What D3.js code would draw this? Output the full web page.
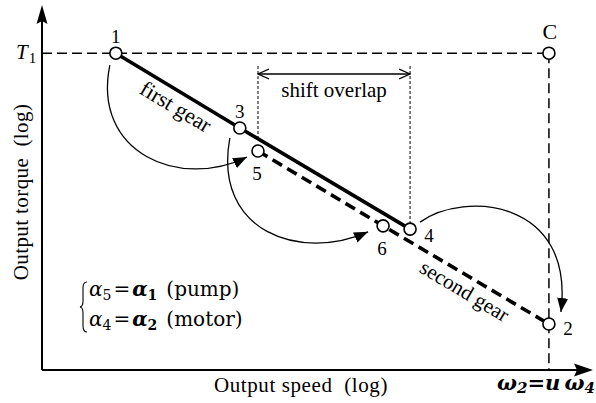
<!DOCTYPE html>
<html>
<head>
<meta charset="utf-8">
<script src="https://cdn.jsdelivr.net/npm/d3@7"></script>
<style>
  html, body { margin: 0; padding: 0; background: #fff; }
  svg { display: block; }
  text { font-family: "Liberation Serif", "DejaVu Serif", serif; fill: #000; white-space: pre; }
  text.math { font-family: "DejaVu Serif", "Liberation Serif", serif; }
</style>
</head>
<body>
<svg id="chart" width="596" height="403"></svg>
<script>
// Operating points on log–log axes (log speed, log torque, 0–100 units)
const pointNames  = ["1", "3", "4", "5", "6", "2"];
const logSpeed    = [13.4, 35.9, 66.8, 39.2, 61.9, 92.0];
const logTorque   = [86.8, 66.3, 38.6, 60.0, 39.5, 12.6];
const firstGear   = ["1", "3", "4"];
const secondGear  = ["5", "6", "2"];
// Shift transitions drawn as curved arrows: [from, to]
const transitions = [["1", "5"], ["3", "6"], ["4", "2"]];

const svg = d3.select("#chart");

const x = d3.scaleLinear().domain([0, 100]).range([42, 593]);
const y = d3.scaleLinear().domain([0, 100]).range([370, 5]);

const pts = {};
pointNames.forEach((n, i) => pts[n] = { name: n, px: x(logSpeed[i]), py: y(logTorque[i]) });
// Corner point C: top torque at top speed
const C = { name: "C", px: x(logSpeed[5]), py: y(logTorque[0]) };

const defs = svg.append("defs");
defs.append("marker").attr("id", "tri").attr("markerUnits", "userSpaceOnUse")
  .attr("viewBox", "0 -6 14 12").attr("refX", 14).attr("refY", 0)
  .attr("markerWidth", 14).attr("markerHeight", 12).attr("orient", "auto")
  .append("path").attr("d", "M0,-5.5L14,0L0,5.5Z").attr("fill", "#000");
defs.append("marker").attr("id", "vee").attr("markerUnits", "userSpaceOnUse")
  .attr("viewBox", "0 -6 12 12").attr("refX", 11).attr("refY", 0)
  .attr("markerWidth", 12).attr("markerHeight", 12).attr("orient", "auto-start-reverse")
  .append("path").attr("d", "M0,-5L11,0L0,5").attr("fill", "none").attr("stroke", "#000").attr("stroke-width", 1.3);

// Axes (no ticks), with arrowheads
const xAxis = svg.append("g").attr("transform", `translate(0,${y(0)})`)
  .call(d3.axisBottom(x).ticks(0).tickSizeOuter(0));
xAxis.select(".domain").attr("stroke-width", 2).attr("d", `M${x(0)},0H${x(100) - 14}`);
const yAxis = svg.append("g").attr("transform", `translate(${x(0)},0)`)
  .call(d3.axisLeft(y).ticks(0).tickSizeOuter(0));
yAxis.select(".domain").attr("stroke-width", 2).attr("d", `M0,${y(0)}V${y(100) + 14}`);
svg.append("path").attr("fill", "#000")
  .attr("d", `M${x(100)},${y(0)}l-19,-6.5l3,6.5l-3,6.5Z`);
svg.append("path").attr("fill", "#000")
  .attr("d", `M${x(0)},${y(100)}l-5.5,19l5.5,-3l5.5,3Z`);

// Reference lines: T1 level and top-speed limit through C
svg.append("path").attr("fill", "none").attr("stroke", "#000").attr("stroke-width", 1.5)
  .attr("stroke-dasharray", "10,5")
  .attr("d", `M${x(0)},${C.py}H${C.px}`);
svg.append("path").attr("fill", "none").attr("stroke", "#000").attr("stroke-width", 1.5)
  .attr("stroke-dasharray", "10,5")
  .attr("d", `M${C.px},${C.py}V${y(0)}`);

// Shift overlap band
const ovL = pts["5"].px, ovR = pts["4"].px, ovY = 74;
svg.append("line").attr("x1", ovL).attr("x2", ovL).attr("y1", 66).attr("y2", pts["3"].py + 9)
  .attr("stroke", "#000").attr("stroke-width", 1).attr("stroke-dasharray", "3,2");
svg.append("line").attr("x1", ovR).attr("x2", ovR).attr("y1", 66).attr("y2", pts["4"].py - 6)
  .attr("stroke", "#000").attr("stroke-width", 1).attr("stroke-dasharray", "3,2");
svg.append("line").attr("x1", ovL).attr("x2", ovR).attr("y1", ovY).attr("y2", ovY)
  .attr("stroke", "#000").attr("stroke-width", 1.3)
  .attr("marker-start", "url(#vee)").attr("marker-end", "url(#vee)");
svg.append("text").attr("x", (ovL + ovR) / 2).attr("y", 97).attr("text-anchor", "middle")
  .attr("font-size", 21).text("shift overlap");

// Gear lines
const line = d3.line().x(d => pts[d].px).y(d => pts[d].py);
svg.append("path").attr("d", line(firstGear)).attr("fill", "none")
  .attr("stroke", "#000").attr("stroke-width", 3.6);
svg.append("path").attr("d", line(secondGear)).attr("fill", "none")
  .attr("stroke", "#000").attr("stroke-width", 3.6).attr("stroke-dasharray", "11,6");

// Gear labels, rotated along their lines
function angleOf(a, b) { return Math.atan2(pts[b].py - pts[a].py, pts[b].px - pts[a].px) * 180 / Math.PI; }
svg.append("text").attr("font-size", 22).attr("text-anchor", "middle")
  .attr("transform", `translate(172,113) rotate(${angleOf("1", "4")})`).text("first gear");
svg.append("text").attr("font-size", 21).attr("text-anchor", "middle")
  .attr("transform", `translate(461,297) rotate(${angleOf("5", "2")})`).text("second gear");

// Curved transition arrows
const arcShape = {
  "1-5": [[-6, 12], [-24, 100], [-78, 39], [-11, 6]],
  "3-6": [[-10, 10], [-27, 104], [-83, 36], [-15, 6]],
  "4-2": [[10, -7], [55, -39], [26, -124], [12, -12]]
};
transitions.forEach(([a, b]) => {
  const s = arcShape[a + "-" + b], A = pts[a], B = pts[b];
  const p = d3.path();
  p.moveTo(A.px + s[0][0], A.py + s[0][1]);
  p.bezierCurveTo(A.px + s[1][0], A.py + s[1][1], B.px + s[2][0], B.py + s[2][1], B.px + s[3][0], B.py + s[3][1]);
  svg.append("path").attr("d", p.toString()).attr("fill", "none")
    .attr("stroke", "#000").attr("stroke-width", 1.3).attr("marker-end", "url(#tri)");
});

// Operating point markers
const allPts = pointNames.map(n => pts[n]).concat([C]);
svg.selectAll("circle.op").data(allPts).join("circle").attr("class", "op")
  .attr("cx", d => d.px).attr("cy", d => d.py).attr("r", 6)
  .attr("fill", "#fff").attr("stroke", "#000").attr("stroke-width", 1.6);

// Point labels
const labelOffset = { "1": [0, -10], "3": [0, -10], "5": [-1, 29], "6": [-1, 29], "4": [19, 13], "2": [19, 11], "C": [1, -14] };
svg.selectAll("text.pl").data(allPts).join("text").attr("class", "pl")
  .attr("x", d => d.px + labelOffset[d.name][0]).attr("y", d => d.py + labelOffset[d.name][1])
  .attr("text-anchor", "middle").attr("font-size", d => d.name === "C" ? 22 : 19)
  .text(d => d.name);

// T1 tick label
const t1 = svg.append("text").attr("x", 16).attr("y", C.py + 6).attr("font-size", 21);
t1.append("tspan").attr("font-style", "italic").text("T");
t1.append("tspan").attr("font-size", 15).attr("dy", 4).attr("dx", 1).text("1");

// Axis titles
svg.append("text").attr("x", 301).attr("y", 392).attr("text-anchor", "middle")
  .attr("font-size", 21).attr("letter-spacing", 0.6).text("Output speed  (log)");
svg.append("text").attr("transform", "translate(28,192) rotate(-90)").attr("text-anchor", "middle")
  .attr("font-size", 21).attr("letter-spacing", 0.4).text("Output torque  (log)");

// Speed limit label
const wl = svg.append("text").attr("class", "math").attr("x", 595).attr("y", 390).attr("text-anchor", "end")
  .attr("font-size", 21).attr("font-weight", "bold").attr("font-style", "italic");
wl.append("tspan").text("ω");
wl.append("tspan").attr("font-size", 15).attr("dy", 3).text("2");
wl.append("tspan").attr("dy", -3).attr("font-style", "normal").text("=");
wl.append("tspan").text("u\u2009ω");
wl.append("tspan").attr("font-size", 15).attr("dy", 3).text("4");

// Displacement settings
svg.append("path").attr("fill", "none").attr("stroke", "#000").attr("stroke-width", 1.1)
  .attr("d", "M87,282 Q83,282 83,288 L83,301 Q83,306.5 80,307 Q83,307.5 83,313 L83,326 Q83,332 87,332");
const legendRows = [
  { a: "5", b: "1", note: "(pump)", yb: 296 },
  { a: "4", b: "2", note: "(motor)", yb: 326 }
];
legendRows.forEach(r => {
  const t = svg.append("text").attr("class", "math").attr("x", 89).attr("y", r.yb).attr("font-size", 20);
  t.append("tspan").attr("font-style", "italic").text("α");
  t.append("tspan").attr("font-size", 14).attr("dy", 4).text(r.a);
  t.append("tspan").attr("dy", -4).attr("dx", 2).text("=");
  t.append("tspan").attr("dx", 2).attr("font-style", "italic").attr("font-weight", "bold").text("α");
  t.append("tspan").attr("font-size", 14).attr("font-weight", "bold").attr("dy", 4).text(r.b);
  t.append("tspan").attr("dy", -4).attr("dx", 9).text(r.note);
});
</script>
</body>
</html>
